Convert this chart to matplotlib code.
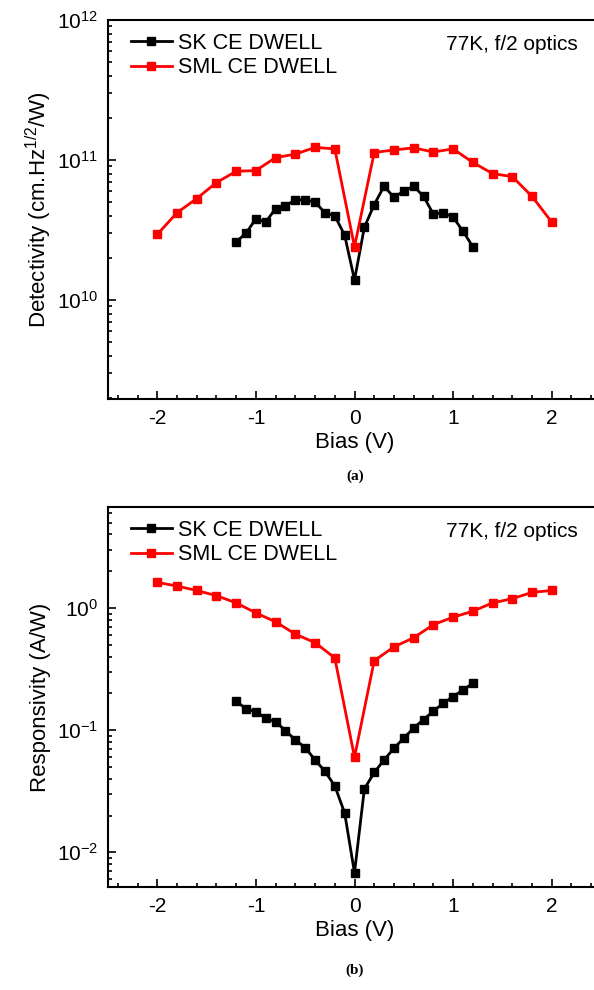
import numpy as np
import matplotlib
matplotlib.use("Agg")
import matplotlib.pyplot as plt
from matplotlib.ticker import AutoMinorLocator, LogLocator

plt.rcParams['font.family'] = ['Liberation Sans', 'DejaVu Sans']
plt.rcParams['mathtext.fontset'] = 'custom'
plt.rcParams['mathtext.rm'] = 'Liberation Sans'
plt.rcParams['axes.unicode_minus'] = False

# bias values (V)
bias_sml = [-2.0, -1.8, -1.6, -1.4, -1.2, -1.0, -0.8, -0.6, -0.4, -0.2, 0.0,
            0.2, 0.4, 0.6, 0.8, 1.0, 1.2, 1.4, 1.6, 1.8, 2.0]
bias_sk = [-1.2, -1.1, -1.0, -0.9, -0.8, -0.7, -0.6, -0.5, -0.4, -0.3, -0.2, -0.1, 0.0,
           0.1, 0.2, 0.3, 0.4, 0.5, 0.6, 0.7, 0.8, 0.9, 1.0, 1.1, 1.2]

# detectivity (cm.Hz^1/2/W)
det_sml = [2.94e10, 4.2e10, 5.3e10, 6.9e10, 8.3e10, 8.4e10, 1.04e11, 1.10e11, 1.23e11, 1.20e11,
           2.4e10, 1.13e11, 1.18e11, 1.22e11, 1.14e11, 1.20e11, 9.6e10, 8.0e10, 7.6e10, 5.5e10, 3.6e10]
det_sk = [2.6e10, 3.0e10, 3.8e10, 3.6e10, 4.5e10, 4.7e10, 5.2e10, 5.2e10, 5.0e10, 4.2e10, 4.0e10,
          2.9e10, 1.39e10, 3.3e10, 4.8e10, 6.5e10, 5.4e10, 6.0e10, 6.5e10, 5.5e10, 4.1e10, 4.2e10,
          3.9e10, 3.1e10, 2.4e10]

# responsivity (A/W)
resp_sml = [1.62, 1.51, 1.39, 1.26, 1.10, 0.91, 0.77, 0.61, 0.52, 0.39, 0.06,
            0.37, 0.48, 0.57, 0.73, 0.84, 0.94, 1.10, 1.19, 1.34, 1.39]
resp_sk = [0.173, 0.149, 0.142, 0.125, 0.117, 0.099, 0.083, 0.072, 0.057, 0.046, 0.035, 0.021,
           0.0068, 0.033, 0.045, 0.057, 0.071, 0.086, 0.104, 0.122, 0.143, 0.166, 0.188, 0.213, 0.242]

W, H = 594, 990
fig = plt.figure(figsize=(W / 100, H / 100), dpi=100)


def px_axes(left, top, right, bottom):
    return fig.add_axes([left / W, 1 - bottom / H, (right - left) / W, (bottom - top) / H])


def style(ax, ylim):
    ax.set_yscale('log')
    ax.set_xlim(-2.5, 2.5)
    ax.set_ylim(*ylim)
    ax.set_xticks([-2, -1, 0, 1, 2])
    ax.xaxis.set_minor_locator(AutoMinorLocator(5))
    ax.yaxis.set_major_locator(LogLocator(base=10, numticks=10))
    ax.yaxis.set_minor_locator(LogLocator(base=10, subs=np.arange(2, 10), numticks=20))
    ax.tick_params(which='both', direction='in', top=False, right=False, width=1.2, labelsize=15)
    ax.tick_params(which='major', length=6, pad=7)
    ax.tick_params(which='minor', length=3)
    for s in ax.spines.values():
        s.set_linewidth(1.5)
    ax.set_xlabel('Bias (V)', fontsize=16, labelpad=3)
    ax.legend(loc='upper left', frameon=False, fontsize=15.5, handlelength=1.9,
              handletextpad=0.3, borderaxespad=0.2, labelspacing=0.15,
              bbox_to_anchor=(0.02, 1.0))
    ax.text(0.953, 0.935, '77K, f/2 optics', transform=ax.transAxes, ha='right',
            va='center', fontsize=15)


ax1 = px_axes(108, 20, 601, 399)
ax1.plot(bias_sk, det_sk, '-s', color='black', lw=2, ms=6, label='SK CE DWELL')
ax1.plot(bias_sml, det_sml, '-s', color='red', lw=2, ms=6, label='SML CE DWELL')
style(ax1, (1.96e9, 1e12))
ax1.set_ylabel(r'Detectivity (cm.Hz$^{\mathregular{1/2}}$/W)', fontsize=16, labelpad=2)

ax2 = px_axes(108, 507, 601, 887)
ax2.plot(bias_sk, resp_sk, '-s', color='black', lw=2, ms=6, label='SK CE DWELL')
ax2.plot(bias_sml, resp_sml, '-s', color='red', lw=2, ms=6, label='SML CE DWELL')
style(ax2, (0.0052, 6.7))
ax2.set_ylabel('Responsivity (A/W)', fontsize=16, labelpad=4)

fig.text(355 / W, 1 - 476 / H, '(a)', ha='center', va='center', fontsize=11,
         fontweight='bold', family='Liberation Serif')
fig.text(355 / W, 1 - 970 / H, '(b)', ha='center', va='center', fontsize=11,
         fontweight='bold', family='Liberation Serif')

fig.savefig('out.png', dpi=100)
